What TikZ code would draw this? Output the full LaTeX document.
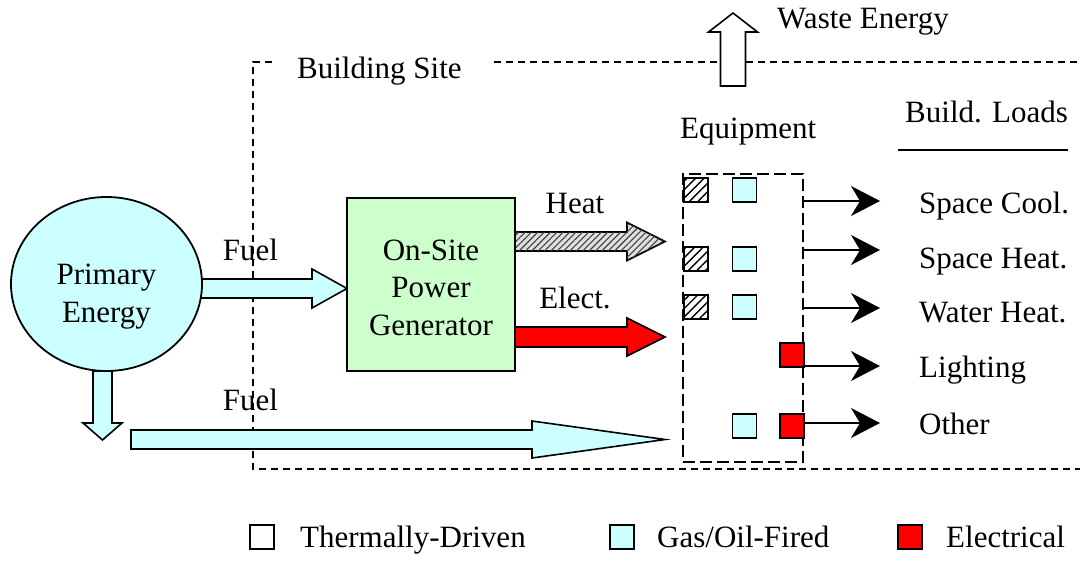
\documentclass[tikz,border=0pt]{standalone}
\usepackage{fontspec}
\setmainfont{Liberation Serif}
\newfontfamily\tnr{Liberation Serif}
\usetikzlibrary{shapes.geometric,arrows.meta,patterns.meta}
\definecolor{lcyan}{RGB}{204,255,255}
\definecolor{lgreen}{RGB}{204,255,204}
\definecolor{ered}{RGB}{255,0,0}
% style, x0, xtip, yc, shaft half, head half, head length
\newcommand{\harrow}[7]{%
  \draw[#1] (#2,#4-#5) -- (#3-#7,#4-#5) -- (#3-#7,#4-#6) -- (#3,#4)
    -- (#3-#7,#4+#6) -- (#3-#7,#4+#5) -- (#2,#4+#5) -- cycle;}
\begin{document}
\begin{tikzpicture}[x=1pt,y=-1pt,
  txt/.style={font=\tnr\fontsize{31}{38}\selectfont, inner sep=0pt},
  blk/.style={draw=black, line width=1.6pt, line join=miter},
  cyanblk/.style={blk, fill=lcyan},
  redblk/.style={blk, fill=ered},
  heatblk/.style={blk, fill=gray!25,
    postaction={pattern={Lines[angle=45,distance=4.5pt,line width=1.1pt]}, pattern color=black!75}},
  sitebound/.style={line width=1.3pt, dash pattern=on 7pt off 5pt},
  equipbox/.style={draw, line width=2pt, dash pattern=on 12pt off 5pt, inner sep=0pt},
  sq/.style={draw, line width=1.6pt, minimum size=24pt, inner sep=0pt, anchor=north west},
  hatchsq/.style={sq, fill=white,
    postaction={pattern={Lines[angle=45,distance=6pt,line width=1.4pt]}, pattern color=black}},
  cyansq/.style={sq, fill=lcyan},
  redsq/.style={sq, fill=ered},
  loadarrow/.style={line width=1.3pt, -{Stealth[length=29pt,width=30pt,inset=9pt]}}
]
\useasboundingbox (0,0) rectangle (1084,560);

% building site boundary
\draw[sitebound] (272,62) -- (253,62) -- (253,469) -- (1080,469);
\draw[sitebound] (494,62) -- (1080,62);
\node[txt, anchor=base west] (site) at (297,78) {Building Site};

% waste energy arrow
\draw[blk, fill=white] (720.5,86) -- (720.5,32) -- (708.5,32) -- (733,13) -- (757.5,32) -- (745.5,32) -- (745.5,86) -- cycle;
\node[txt, anchor=base west] (waste) at (777,28) {Waste Energy};

% block arrows
\harrow{cyanblk}{195}{347}{288.5}{9.5}{19.5}{35}
\harrow{heatblk}{515}{665}{241.5}{9.5}{19}{38}
\harrow{redblk}{515}{665}{337}{10}{19}{38}
\harrow{cyanblk}{131}{665}{439.5}{9.5}{18.5}{133}
\draw[cyanblk] (93,371) -- (93,423) -- (83,423) -- (102.5,440) -- (122,423) -- (112,423) -- (112,371) -- cycle;

% primary energy
\node[draw, line width=1.8pt, fill=lcyan, ellipse, minimum width=191pt, minimum height=174pt, inner sep=0pt] (pe) at (106.5,284) {};
\node[txt, anchor=base] (pe1) at (106.5,284) {Primary};
\node[txt, anchor=base] (pe2) at (106.5,322) {Energy};

% generator
\node[draw, line width=1.8pt, fill=lgreen, minimum width=168pt, minimum height=173pt, inner sep=0pt] (gen) at (431,284.5) {};
\node[txt, anchor=base] (g1) at (431,260) {On-Site};
\node[txt, anchor=base] (g2) at (431,297) {Power};
\node[txt, anchor=base] (g3) at (431,335) {Generator};

\node[txt, anchor=base] (fuel1) at (250.5,260) {Fuel};
\node[txt, anchor=base] (fuel2) at (250.5,410) {Fuel};
\node[txt, anchor=base] (heat) at (575,213) {Heat};
\node[txt, anchor=base] (elect) at (575,308) {Elect.};

% equipment
\node[txt, anchor=base west] (equip) at (680,138) {Equipment};
\node[equipbox, minimum width=120pt, minimum height=288pt] (eq) at (743,318) {};
\node[hatchsq] (h1) at (683,177) {};
\node[hatchsq] (h2) at (683,246) {};
\node[hatchsq] (h3) at (683,294) {};
\node[cyansq] (c1) at (731.5,177) {};
\node[cyansq] (c2) at (731.5,246) {};
\node[cyansq] (c3) at (731.5,294) {};
\node[cyansq] (c5) at (731.5,413) {};
\node[redsq] (r4) at (779,342) {};
\node[redsq] (r5) at (779,413) {};

% building loads
\node[txt, anchor=base west] (bl) at (905,122) {Build. Loads};
\coordinate (ul1) at (898,150);
\coordinate (ul2) at (1068,150);
\draw[line width=1.5pt] (ul1) -- (ul2);

\coordinate (t1) at (880,201);
\coordinate (t2) at (880,250);
\coordinate (t3) at (880,308);
\coordinate (t4) at (880,366);
\coordinate (t5) at (880,423);
\foreach \t in {t1,t2,t3,t4,t5}{\draw[loadarrow] (eq.east |- \t) -- (\t);}
\node[txt, anchor=base west] (l1) at (919,213) {Space Cool.};
\node[txt, anchor=base west] (l2) at (919,268) {Space Heat.};
\node[txt, anchor=base west] (l3) at (919,322) {Water Heat.};
\node[txt, anchor=base west] (l4) at (919,377) {Lighting};
\node[txt, anchor=base west] (l5) at (919,434) {Other};

% legend
\node[sq, fill=white, line width=1.5pt] (k1) at (249,524) {};
\node[txt, anchor=base west] (k1t) at (300,547) {Thermally-Driven};
\node[sq, fill=lcyan, line width=1.5pt] (k2) at (609,524) {};
\node[txt, anchor=base west] (k2t) at (657,547) {Gas/Oil-Fired};
\node[sq, fill=ered, line width=1.5pt] (k3) at (897,524) {};
\node[txt, anchor=base west] (k3t) at (946,547) {Electrical};
\end{tikzpicture}
\end{document}
